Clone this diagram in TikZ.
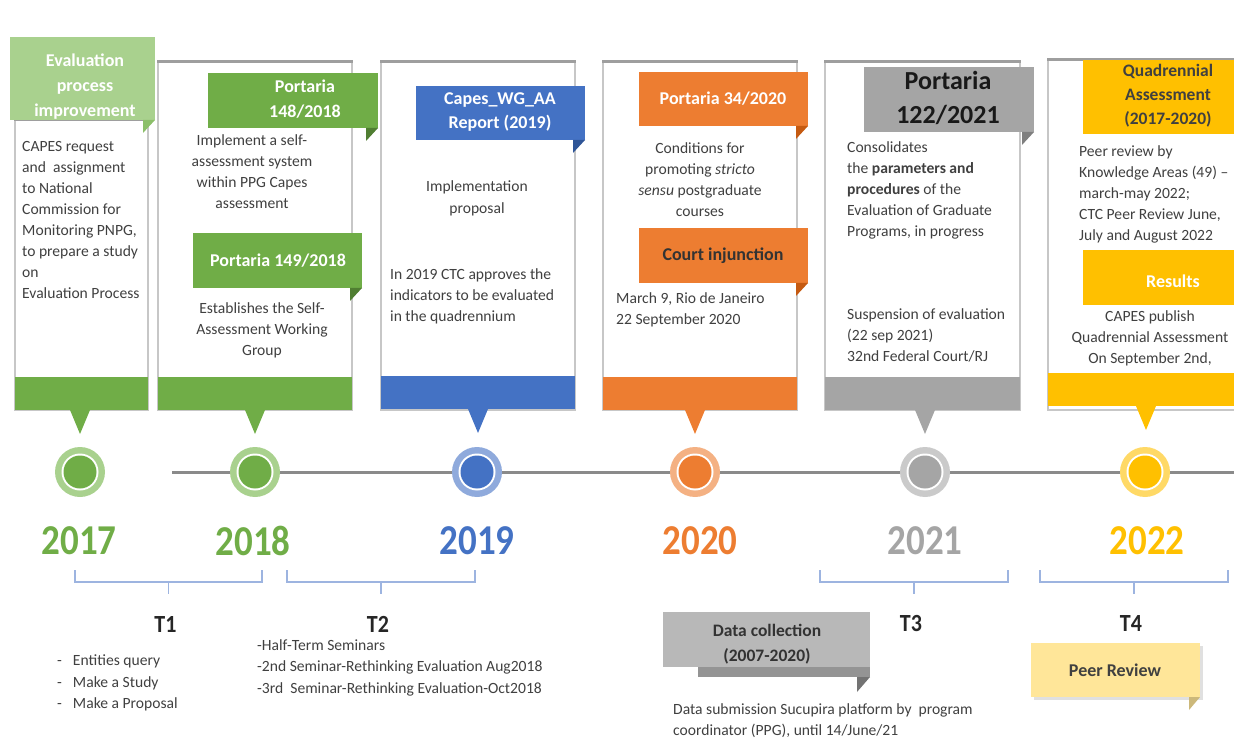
\documentclass[tikz,border=0pt]{standalone}
\usepackage{fontspec}
\setmainfont{Carlito}
\usetikzlibrary{calc}

\definecolor{gDark}{HTML}{70AD47}
\definecolor{gLight}{HTML}{A9D18E}
\definecolor{gFoldL}{HTML}{8CBF6A}
\definecolor{gFold}{HTML}{507E32}
\definecolor{bDark}{HTML}{4472C4}
\definecolor{bLight}{HTML}{8FAADC}
\definecolor{bFold}{HTML}{2F5597}
\definecolor{oDark}{HTML}{ED7D31}
\definecolor{oLight}{HTML}{F4B183}
\definecolor{oFold}{HTML}{C55A11}
\definecolor{kDark}{HTML}{A5A5A5}
\definecolor{kLight}{HTML}{CACACA}
\definecolor{kFold}{HTML}{7F7F7F}
\definecolor{yDark}{HTML}{FFC000}
\definecolor{yLight}{HTML}{FFD966}
\definecolor{yFold}{HTML}{BF9000}
\definecolor{yPale}{HTML}{FFE699}
\definecolor{txt}{HTML}{404040}
\definecolor{braceblue}{HTML}{9DB4E0}
\definecolor{axis}{HTML}{8A8A8A}

% header tab with a folded corner at its lower right
\newcommand\tabbox[6]{%
  \fill[#5] (#1,#2) rectangle (#3,#4);
  \fill[#6] (#3-12,#4) -- (#3,#4) -- (#3-12,#4+13) -- cycle;}
% white card with coloured foot band and pointer
\newcommand\cardframe[6]{%
  \filldraw[frame] (#1,#2) rectangle (#3,410);
  \draw[black!38, line width=3pt] (#1-1,#2) -- (#3+1,#2);
  \fill[#5] (#1,#4) rectangle (#3,#4+33);
  \fill[#5] (#6-10,#4+33) -- (#6+10,#4+33) -- (#6,#4+57) -- cycle;}
% timeline marker: light ring, white ring, dark core
\newcommand\yearmark[4]{%
  \fill[#2] (#1,472) circle (25);
  \fill[white] (#1,472) circle (18.5);
  \node[circle, fill=#3, minimum size=33pt, inner sep=0pt] (#4) at (#1,472) {};}
% period bracket under the years
\newcommand\period[4]{%
  \draw[brace] (#1,570) -- (#1,582) -- (#2,582) -- (#2,570);
  \draw[brace] ({(#1+#2)/2},582) -- ({(#1+#2)/2},594) coordinate (#3);
  \node[tlabel] (#4) at ({(#1+#2)/2-3},624) {\scalebox{1}[1.12]{#4}};}

\begin{document}
\begin{tikzpicture}[x=1pt,y=-1pt,
  frame/.style={fill=white, draw=black!22, line width=2.2pt},
  body/.style={font=\fontsize{15.6}{21}\selectfont, text=txt, inner sep=0pt},
  hdr/.style={font=\fontsize{18}{25}\selectfont\bfseries, text=white, inner sep=0pt, align=center},
  yearlbl/.style={font=\fontsize{37}{37}\selectfont\bfseries, inner sep=0pt},
  tlabel/.style={font=\fontsize{22}{22}\selectfont\bfseries, text=black!85, inner sep=0pt},
  brace/.style={draw=braceblue, line width=1.1pt}]
\useasboundingbox (0,0) rectangle (1234,751);
\clip (0,0) rectangle (1234,751);

% ---------------- timeline axis ----------------
\draw[axis, line width=3pt] (172,472) -- (1234,472);

% ---------------- 2017 card ----------------
\cardframe{15}{120}{148}{377}{gDark}{80}
\tabbox{10}{37}{155}{120}{gLight}{gFoldL}
\node[hdr, anchor=north] (h17) at (85,54) {Evaluation\\process\\improvement};
\node[body, anchor=north west, align=left] (t17) at (22,141)
  {CAPES request\\and\ \ assignment\\to National\\Commission for\\Monitoring PNPG,\\to prepare a study\\on\\Evaluation Process};

% ---------------- 2018 card ----------------
\cardframe{158}{62}{352}{377}{gDark}{255}
\tabbox{208}{73}{378}{128}{gDark}{gFold}
\node[hdr, anchor=north] (h18a) at (305,80) {Portaria\\148/2018};
\node[body, anchor=north, align=center] (t18a) at (252,134)
  {Implement a self-\\assessment system\\within PPG Capes\\assessment};
\tabbox{193}{233}{362}{288}{gDark}{gFold}
\node[hdr] (h18b) at (278,261) {Portaria 149/2018};
\node[body, anchor=north, align=center] (t18b) at (262,302)
  {Establishes the Self-\\Assessment Working\\Group};

% ---------------- 2019 card ----------------
\cardframe{381}{62}{575}{376}{bDark}{478}
\tabbox{416}{86}{585}{140}{bDark}{bFold}
\node[hdr, font=\fontsize{18}{24}\selectfont\bfseries, anchor=north] (h19) at (500,92) {Capes\_WG\_AA\\Report (2019)};
\node[body, anchor=north, align=center, font=\fontsize{15.6}{22}\selectfont] (t19a) at (477,180)
  {Implementation\\proposal};
\node[body, anchor=north west, align=left] (t19b) at (390,268)
  {In 2019 CTC approves the\\indicators to be evaluated\\in the quadrennium};

% ---------------- 2020 card ----------------
\cardframe{603}{62}{797}{377}{oDark}{695}
\tabbox{639}{72}{808}{126}{oDark}{oFold}
\node[hdr] (h20a) at (723,99) {Portaria 34/2020};
\node[body, anchor=north, align=center] (t20a) at (700,142)
  {Conditions for\\promoting \textit{stricto}\\\textit{sensu} postgraduate\\courses};
\tabbox{639}{228}{808}{283}{oDark}{oFold}
\node[hdr, text=black!80] (h20b) at (723,256) {Court injunction};
\node[body, anchor=north west, align=left] (t20b) at (616,292)
  {March 9, Rio de Janeiro\\22 September 2020};

% ---------------- 2021 card ----------------
\cardframe{825}{62}{1020}{377}{kDark}{925}
\tabbox{864}{67}{1034}{132}{kDark}{kFold}
\node[hdr, font=\fontsize{26}{34}\selectfont\bfseries, text=black!90] (h21) at (948,98) {Portaria\\122/2021};
\node[body, anchor=north west, align=left] (t21a) at (847,141)
  {Consolidates\\the \textbf{parameters and}\\\textbf{procedures} of the\\Evaluation of Graduate\\Programs, in progress};
\node[body, anchor=north west, align=left] (t21b) at (847,308)
  {Suspension of evaluation\\(22 sep 2021)\\32nd Federal Court/RJ};

% ---------------- 2022 card ----------------
\cardframe{1048}{60}{1245}{373}{yDark}{1146}
\fill[yDark] (1083,60) rectangle (1245,134);
\node[hdr, font=\fontsize{17.5}{24}\selectfont\bfseries, text=black!75] (h22a) at (1168,96)
  {Quadrennial\\Assessment\\(2017-2020)};
\node[body, anchor=north west, align=left] (t22a) at (1079,145)
  {Peer review by\\Knowledge Areas (49) --\\march-may 2022;\\CTC Peer Review June,\\July and August 2022};
\fill[yDark] (1083,250) rectangle (1245,305);
\node[hdr] (h22b) at (1173,281) {Results};
\node[body, anchor=north, align=center] (t22b) at (1150,310)
  {CAPES publish\\Quadrennial Assessment\\On September 2nd,};

% ---------------- year markers ----------------
\yearmark{80}{gLight}{gDark}{m17}
\yearmark{255}{gLight}{gDark}{m18}
\yearmark{477}{bLight}{bDark}{m19}
\yearmark{695}{oLight}{oDark}{m20}
\yearmark{925}{kLight}{kDark}{m21}
\yearmark{1145}{yLight}{yDark}{m22}

\node[yearlbl, text=gDark] (y17) at (79,541) {\scalebox{1}[1.15]{2017}};
\node[yearlbl, text=gDark] (y18) at (253,541) {\scalebox{1}[1.15]{2018}};
\node[yearlbl, text=bDark] (y19) at (477,541) {\scalebox{1}[1.15]{2019}};
\node[yearlbl, text=oDark] (y20) at (700,541) {\scalebox{1}[1.15]{2020}};
\node[yearlbl, text=kDark] (y21) at (925,541) {\scalebox{1}[1.15]{2021}};
\node[yearlbl, text=yDark] (y22) at (1147,541) {\scalebox{1}[1.15]{2022}};

% ---------------- periods ----------------
\period{75}{262}{p1}{T1}
\period{287}{475}{p2}{T2}
\period{820}{1008}{p3}{T3}
\period{1040}{1228}{p4}{T4}

\node[body, anchor=north west, align=left, font=\fontsize{15.6}{21.5}\selectfont] (l1) at (57,655)
  {-\hspace{11pt}Entities query\\-\hspace{11pt}Make a Study\\-\hspace{11pt}Make a Proposal};
\node[body, anchor=north west, align=left, font=\fontsize{15.6}{21.5}\selectfont] (l2) at (257,639)
  {-Half-Term Seminars\\-2nd Seminar-Rethinking Evaluation Aug2018\\-3rd\ \ Seminar-Rethinking Evaluation-Oct2018};

% ---------------- data collection note ----------------
\fill[black!42] (698,667) rectangle (870,677);
\fill[black!55] (857,677) -- (870,677) -- (857,692) -- cycle;
\fill[black!28] (663,612) rectangle (870,667);
\node[font=\fontsize{17.5}{25}\selectfont\bfseries, text=black!80, align=center, inner sep=0pt] (dc) at (767,644)
  {Data collection\\(2007-2020)};
\node[body, anchor=north west, align=left] (ds) at (673,703)
  {Data submission Sucupira platform by\ \ program\\coordinator (PPG), until 14/June/21};

% ---------------- peer review note ----------------
\fill[black!12] (1034,646) rectangle (1203,700);
\fill[yPale] (1031,643) rectangle (1200,697);
\fill[yPale!80!black] (1189,697) -- (1200,697) -- (1189,710) -- cycle;
\node[font=\fontsize{18}{18}\selectfont\bfseries, text=black!75, inner sep=0pt] (pr) at (1115,670) {Peer Review};
\end{tikzpicture}
\end{document}
